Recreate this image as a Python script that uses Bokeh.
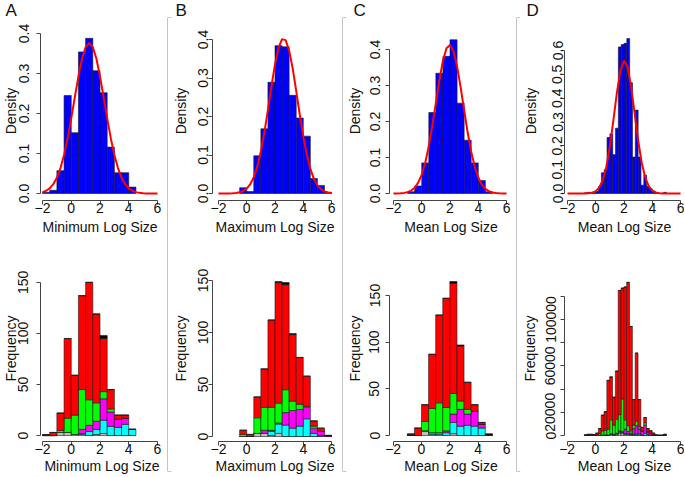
from bokeh.plotting import figure
from bokeh.layouts import row, column
from bokeh.models import Range1d, FixedTicker, LinearAxis, PrintfTickFormatter, Span, Title
from bokeh.embed import file_html
from bokeh.resources import INLINE

# ---------------- data ----------------
panel_letters = ["A", "B", "C", "D"]
x_ticks = [-2, 0, 2, 4, 6]
curve_x = [-2.0, -1.75, -1.5, -1.25, -1.0, -0.75, -0.5, -0.25, 0.0, 0.25, 0.5, 0.75,
           1.0, 1.25, 1.5, 1.75, 2.0, 2.25, 2.5, 2.75, 3.0, 3.25, 3.5, 3.75, 4.0,
           4.25, 4.5, 4.75, 5.0, 5.25, 5.5, 5.75, 6.0]

# Panel A : Minimum log size
a_edges = [-2.0, -1.5, -1.0, -0.5, 0.0, 0.5, 1.0, 1.5, 2.0, 2.5, 3.0, 3.5, 4.0, 4.5]
a_density = [0.003, 0.008, 0.057, 0.245, 0.152, 0.354, 0.388, 0.307, 0.252, 0.116, 0.052, 0.052, 0.016]
a_curve = [0.0034, 0.0069, 0.0130, 0.0233, 0.0396, 0.0635, 0.0963, 0.1383, 0.1879, 0.2413, 0.2930,
           0.3368, 0.3661, 0.3764, 0.3661, 0.3368, 0.2930, 0.2413, 0.1879, 0.1383, 0.0963, 0.0635,
           0.0396, 0.0233, 0.0130, 0.0069, 0.0034, 0.0016, 0.0007, 0.0003, 0.0001, 0.0, 0.0]
a_gray = [0, 0, 3, 3, 1, 1, 0, 1, 2, 0, 0, 0, 0]
a_cyan = [0, 0, 0, 0, 0, 1, 4, 5, 13, 9, 8, 11, 6]
a_magenta = [0, 0, 0, 0, 0, 4, 6, 8, 21, 14, 8, 6, 0]
a_green = [0, 0, 2, 14, 19, 39, 25, 18, 7, 3, 0, 0, 0]
a_red = [1, 3, 17, 78, 39, 92, 115, 87, 52, 19, 4, 3, 0]
a_black = [0, 0, 0, 0, 0, 0, 0, 0, 3, 0, 0, 0, 0]

# Panel B : Maximum log size
b_edges = [-0.5, 0.0, 0.5, 1.0, 1.5, 2.0, 2.5, 3.0, 3.5, 4.0, 4.5, 5.0, 5.5, 6.0]
b_density = [0.015, 0.005, 0.098, 0.168, 0.289, 0.384, 0.381, 0.255, 0.196, 0.149, 0.039, 0.021, 0.003]
b_curve = [0.0, 0.0, 0.0001, 0.0002, 0.0005, 0.0013, 0.0030, 0.0064, 0.0128, 0.0241, 0.0425, 0.0703,
           0.1092, 0.1590, 0.2174, 0.2786, 0.3354, 0.3786, 0.4009, 0.3984, 0.3714, 0.3249, 0.2666,
           0.2052, 0.1483, 0.1005, 0.0639, 0.0381, 0.0213, 0.0112, 0.0055, 0.0026, 0.0011]
b_gray = [0, 0, 3, 3, 1, 3, 0, 0, 0, 0, 0, 0, 0]
b_cyan = [0, 0, 0, 0, 4, 9, 11, 8, 10, 17, 3, 1, 0]
b_magenta = [0, 0, 0, 3, 1, 1, 12, 17, 16, 11, 5, 4, 1]
b_green = [2, 0, 15, 22, 22, 19, 22, 9, 5, 1, 2, 0, 0]
b_red = [4, 2, 20, 37, 84, 116, 101, 64, 45, 29, 5, 3, 0]
b_black = [0, 0, 0, 0, 0, 1, 2, 1, 0, 0, 0, 0, 0]

# Panel C : Mean log size
c_edges = [-1.0, -0.5, 0.0, 0.5, 1.0, 1.5, 2.0, 2.5, 3.0, 3.5, 4.0, 4.5, 5.0]
c_density = [0.005, 0.021, 0.085, 0.225, 0.334, 0.381, 0.427, 0.251, 0.148, 0.085, 0.036, 0.005]
c_curve = [0.0001, 0.0003, 0.0007, 0.0017, 0.0038, 0.0081, 0.0161, 0.0302, 0.0527, 0.0862, 0.1318,
           0.1884, 0.2520, 0.3153, 0.3688, 0.4034, 0.4126, 0.3948, 0.3532, 0.2956, 0.2313, 0.1693,
           0.1159, 0.0742, 0.0444, 0.0249, 0.0130, 0.0064, 0.0029, 0.0013, 0.0005, 0.0002, 0.0001]
c_gray = [0, 0, 5, 1, 1, 0, 2, 0, 0, 0, 0, 0]
c_cyan = [0, 0, 0, 2, 2, 3, 12, 10, 11, 10, 8, 0]
c_magenta = [0, 0, 0, 0, 0, 2, 9, 18, 12, 16, 4, 1]
c_green = [0, 0, 10, 26, 32, 25, 22, 9, 5, 0, 0, 0]
c_red = [1, 8, 18, 58, 94, 117, 118, 59, 29, 7, 2, 0]
c_black = [1, 0, 0, 0, 0, 0, 2, 1, 0, 0, 0, 1]

# Panel D : Mean log size (all individuals)
d_edges = [-0.8, -0.6, -0.4, -0.2, 0.0, 0.2, 0.4, 0.6, 0.8, 1.0, 1.2, 1.4, 1.6, 1.8, 2.0,
           2.2, 2.4, 2.6, 2.8, 3.0, 3.2, 3.4, 3.6, 3.8, 4.0, 4.2, 4.4, 4.6, 4.8, 5.0]
d_density = [0.003, 0.005, 0.005, 0.004, 0.010, 0.030, 0.087, 0.100, 0.235, 0.250, 0.163, 0.274,
             0.615, 0.625, 0.630, 0.650, 0.465, 0.153, 0.350, 0.153, 0.035, 0.077, 0.030, 0.020,
             0.010, 0.002, 0.001, 0.001, 0.005]
d_curve = [0.0, 0.0, 0.0, 0.0, 0.0001, 0.0003, 0.0011, 0.0035, 0.0099, 0.0252, 0.0565, 0.1124,
           0.1977, 0.3077, 0.4240, 0.5168, 0.5575, 0.5322, 0.4496, 0.3361, 0.2223, 0.1301, 0.0674,
           0.0309, 0.0125, 0.0045, 0.0014, 0.0004, 0.0001, 0.0, 0.0, 0.0, 0.0]
d_gray = [0, 0, 0, 0, 0, 300, 500, 500, 500, 1000, 500, 1000, 2000, 2000, 1000, 1000, 500, 500,
          500, 500, 0, 0, 0, 0, 0, 0, 0, 0, 0]
d_cyan = [0, 0, 0, 0, 0, 0, 0, 0, 0, 0, 0, 500, 1000, 500, 500, 500, 500, 500, 1000, 1000, 500,
          2000, 1000, 500, 200, 0, 0, 0, 0]
d_magenta = [0, 0, 0, 0, 0, 0, 0, 0, 0, 500, 500, 500, 1000, 1000, 4000, 2000, 1000, 5000, 7000,
             4000, 3000, 7000, 2000, 1500, 500, 200, 100, 100, 800]
d_green = [0, 0, 0, 0, 500, 1500, 3500, 4000, 5000, 12000, 8000, 12000, 14000, 28000, 8000, 5000,
           2000, 3000, 4000, 2000, 500, 2000, 500, 0, 0, 0, 0, 0, 0]
d_red = [600, 1000, 1000, 800, 1500, 4200, 13500, 16000, 42000, 37000, 24000, 41500, 107000, 95500,
         114500, 123500, 90000, 22000, 58500, 23500, 3000, 4500, 2500, 2000, 1300, 200, 100, 100, 200]
d_black = [0] * 29

dens_ticks_4 = [0.0, 0.1, 0.2, 0.3, 0.4]
dens_ticks_6 = [0.0, 0.1, 0.2, 0.3, 0.4, 0.5, 0.6]
freq_ticks_150 = [0, 50, 100, 150]
freq_ticks_d = [0, 20000, 60000, 100000]
freq_unlabelled_d = [40000, 80000, 120000]

STACK_COLORS = ["#BEBEBE", "#00FFFF", "#FF00FF", "#00FF00", "#FF0000", "#000000"]

# ---------------- layout geometry (pixels) ----------------
FONT = "Liberation Sans"
TXT = "#111111"
AX = "#444444"
SEPC = "#8c8c8c"
W, H = 684, 476

# each column: (page x where its canvas starts, canvas width, natural slot start)
COLS = [(-6, 172, 0), (169, 172, 172), (343, 172, 347), (518, 166, 521)]
COL_LEFT = [46, 42, 45, 45]          # frame left inside each column canvas
SEP_W = 6
ROWS = [(0, 240), (240, 236)]

# x of -2 and 6, y of 0 and of the top tick, x-axis line, frame top, y label standoffs
GEO_TOP = [
    dict(xm2=42, x6=157, y0=193, ytop=33, topval=0.4, xaxis=200, ftop=21, ys1=8, ys2=-3),
    dict(xm2=217, x6=331, y0=193, ytop=39, topval=0.4, xaxis=200, ftop=21, ys1=1, ys2=6),
    dict(xm2=392, x6=506, y0=193, ytop=49, topval=0.4, xaxis=200, ftop=21, ys1=6, ys2=4),
    dict(xm2=566, x6=680, y0=193, ytop=50, topval=0.6, xaxis=200, ftop=21, ys1=-2, ys2=11),
]
GEO_BOT = [
    dict(xm2=42, x6=157, y0=436, ytop=282, topval=150, xaxis=441.7, ftop=255, ys1=8, ys2=-3),
    dict(xm2=217, x6=331, y0=436, ytop=280, topval=150, xaxis=441, ftop=255, ys1=1, ys2=6),
    dict(xm2=391.7, x6=506, y0=435, ytop=295, topval=150, xaxis=441, ftop=255, ys1=6, ys2=4),
    dict(xm2=565.7, x6=680, y0=435, ytop=319, topval=100000, xaxis=441, ftop=255, ys1=5, ys2=5),
]
XS1 = -2
XS2 = [3, 1]
LETTER_X = [5, 174, 352, 525]


def style_axis(ax, s1, s2):
    ax.axis_line_color = AX
    ax.axis_line_width = 1
    ax.major_tick_line_color = AX
    ax.minor_tick_line_color = AX
    ax.major_tick_out = 4
    ax.major_tick_in = 0
    ax.minor_tick_out = 4
    ax.minor_tick_in = 0
    ax.major_label_text_font = FONT
    ax.major_label_text_font_size = "14px"
    ax.major_label_text_color = TXT
    ax.major_label_standoff = s1
    ax.axis_label_text_font = FONT
    ax.axis_label_text_font_size = "14px"
    ax.axis_label_text_font_style = "normal"
    ax.axis_label_text_color = TXT
    ax.axis_label_standoff = s2


def make_panel(ci, ri, g, xlabel, ylabel, yticks, yfmt, yminor=None):
    cx0, cw, _ = COLS[ci]
    ry0, rh = ROWS[ri]
    left = COL_LEFT[ci]
    ppx = (g["x6"] - g["xm2"]) / 8.0
    xs = -2.0 - (g["xm2"] - (cx0 + left)) / ppx
    right = int(min(cw, round(g["x6"] + 6 - cx0)))
    xe = xs + (right - left) / ppx
    bottom = int(round(g["xaxis"] - ry0))
    top = int(round(g["ftop"] - ry0))
    ppy = (g["y0"] - g["ytop"]) / g["topval"]
    ys = -((ry0 + bottom) - g["y0"]) / ppy
    ye = ys + (bottom - top) / ppy
    p = figure(width=cw, height=rh, x_range=Range1d(xs, xe), y_range=Range1d(ys, ye),
               output_backend="svg", toolbar_location=None,
               x_axis_location=None, y_axis_location=None,
               min_border_left=left, min_border_right=cw - right,
               min_border_top=top, min_border_bottom=rh - bottom)
    p.outline_line_color = None
    p.background_fill_color = None
    p.border_fill_color = None
    p.grid.visible = False
    xa = LinearAxis(ticker=FixedTicker(ticks=x_ticks), bounds=(x_ticks[0], x_ticks[-1]),
                    axis_label=xlabel)
    style_axis(xa, XS1, XS2[ri])
    p.add_layout(xa, "below")
    yt = FixedTicker(ticks=yticks, minor_ticks=yminor or [])
    ytop = max(yticks + (yminor or []))
    ya = LinearAxis(ticker=yt, bounds=(yticks[0], ytop), axis_label=ylabel,
                    formatter=PrintfTickFormatter(format=yfmt),
                    major_label_orientation="vertical")
    style_axis(ya, g["ys1"], g["ys2"])
    p.add_layout(ya, "left")
    return p


def density_panel(ci, edges, dens, curve, xlabel, yticks):
    p = make_panel(ci, 0, GEO_TOP[ci], xlabel, "Density", yticks, "%.1f")
    p.quad(left=edges[:-1], right=edges[1:], bottom=0, top=dens,
           fill_color="#0000FF", line_color="#1a1a1a", line_width=0.6)
    p.line(curve_x, curve, line_color="#FF0000", line_width=2)
    p.add_layout(Title(text=panel_letters[ci], align="left", vertical_align="top",
                       text_font=FONT, text_font_size="17px", text_font_style="normal",
                       text_color=TXT, standoff=0,
                       offset=LETTER_X[ci] - COLS[ci][0] - COL_LEFT[ci]), "above")
    return p


def freq_panel(ci, edges, series, xlabel, yticks, yminor=None):
    p = make_panel(ci, 1, GEO_BOT[ci], xlabel, "Frequency", yticks, "%d", yminor)
    base = [0.0] * (len(edges) - 1)
    for vals, col in zip(series, STACK_COLORS):
        topv = [b + v for b, v in zip(base, vals)]
        p.quad(left=edges[:-1], right=edges[1:], bottom=base, top=topv,
               fill_color=col, line_color="#1a1a1a", line_width=0.6)
        base = topv
    return p


def separator():
    s = figure(width=SEP_W, height=H, x_range=Range1d(0, 1), y_range=Range1d(0, 1),
               output_backend="svg", toolbar_location=None,
               x_axis_location=None, y_axis_location=None,
               min_border_left=1, min_border_right=1, min_border_top=17,
               min_border_bottom=H - 471)
    s.outline_line_color = None
    s.background_fill_color = None
    s.border_fill_color = None
    s.grid.visible = False
    s.add_layout(Span(location=0, dimension="height", line_color=SEPC, line_width=1))
    s.add_layout(Span(location=1, dimension="width", line_color=SEPC, line_width=1))
    s.add_layout(Span(location=0, dimension="width", line_color=SEPC, line_width=1))
    return s


def col(ci, top, bot):
    cx0, cw, natural = COLS[ci]
    return column(top, bot, margin=(0, 0, 0, cx0 - natural))


pa1 = density_panel(0, a_edges, a_density, a_curve, "Minimum  Log Size", dens_ticks_4)
pb1 = density_panel(1, b_edges, b_density, b_curve, "Maximum Log Size", dens_ticks_4)
pc1 = density_panel(2, c_edges, c_density, c_curve, "Mean Log Size", dens_ticks_4)
pd1 = density_panel(3, d_edges, d_density, d_curve, "Mean Log Size", dens_ticks_6)

pa2 = freq_panel(0, a_edges, [a_gray, a_cyan, a_magenta, a_green, a_red, a_black],
                 "Minimum Log Size", freq_ticks_150)
pb2 = freq_panel(1, b_edges, [b_gray, b_cyan, b_magenta, b_green, b_red, b_black],
                 "Maximum Log Size", freq_ticks_150)
pc2 = freq_panel(2, c_edges, [c_gray, c_cyan, c_magenta, c_green, c_red, c_black],
                 "Mean Log Size", freq_ticks_150)
pd2 = freq_panel(3, d_edges, [d_gray, d_cyan, d_magenta, d_green, d_red, d_black],
                 "Mean Log Size", freq_ticks_d, freq_unlabelled_d)

layout = row(col(0, pa1, pa2), separator(), col(1, pb1, pb2), separator(),
             col(2, pc1, pc2), separator(), col(3, pd1, pd2))

open("out.html", "w").write(file_html(layout, INLINE))
